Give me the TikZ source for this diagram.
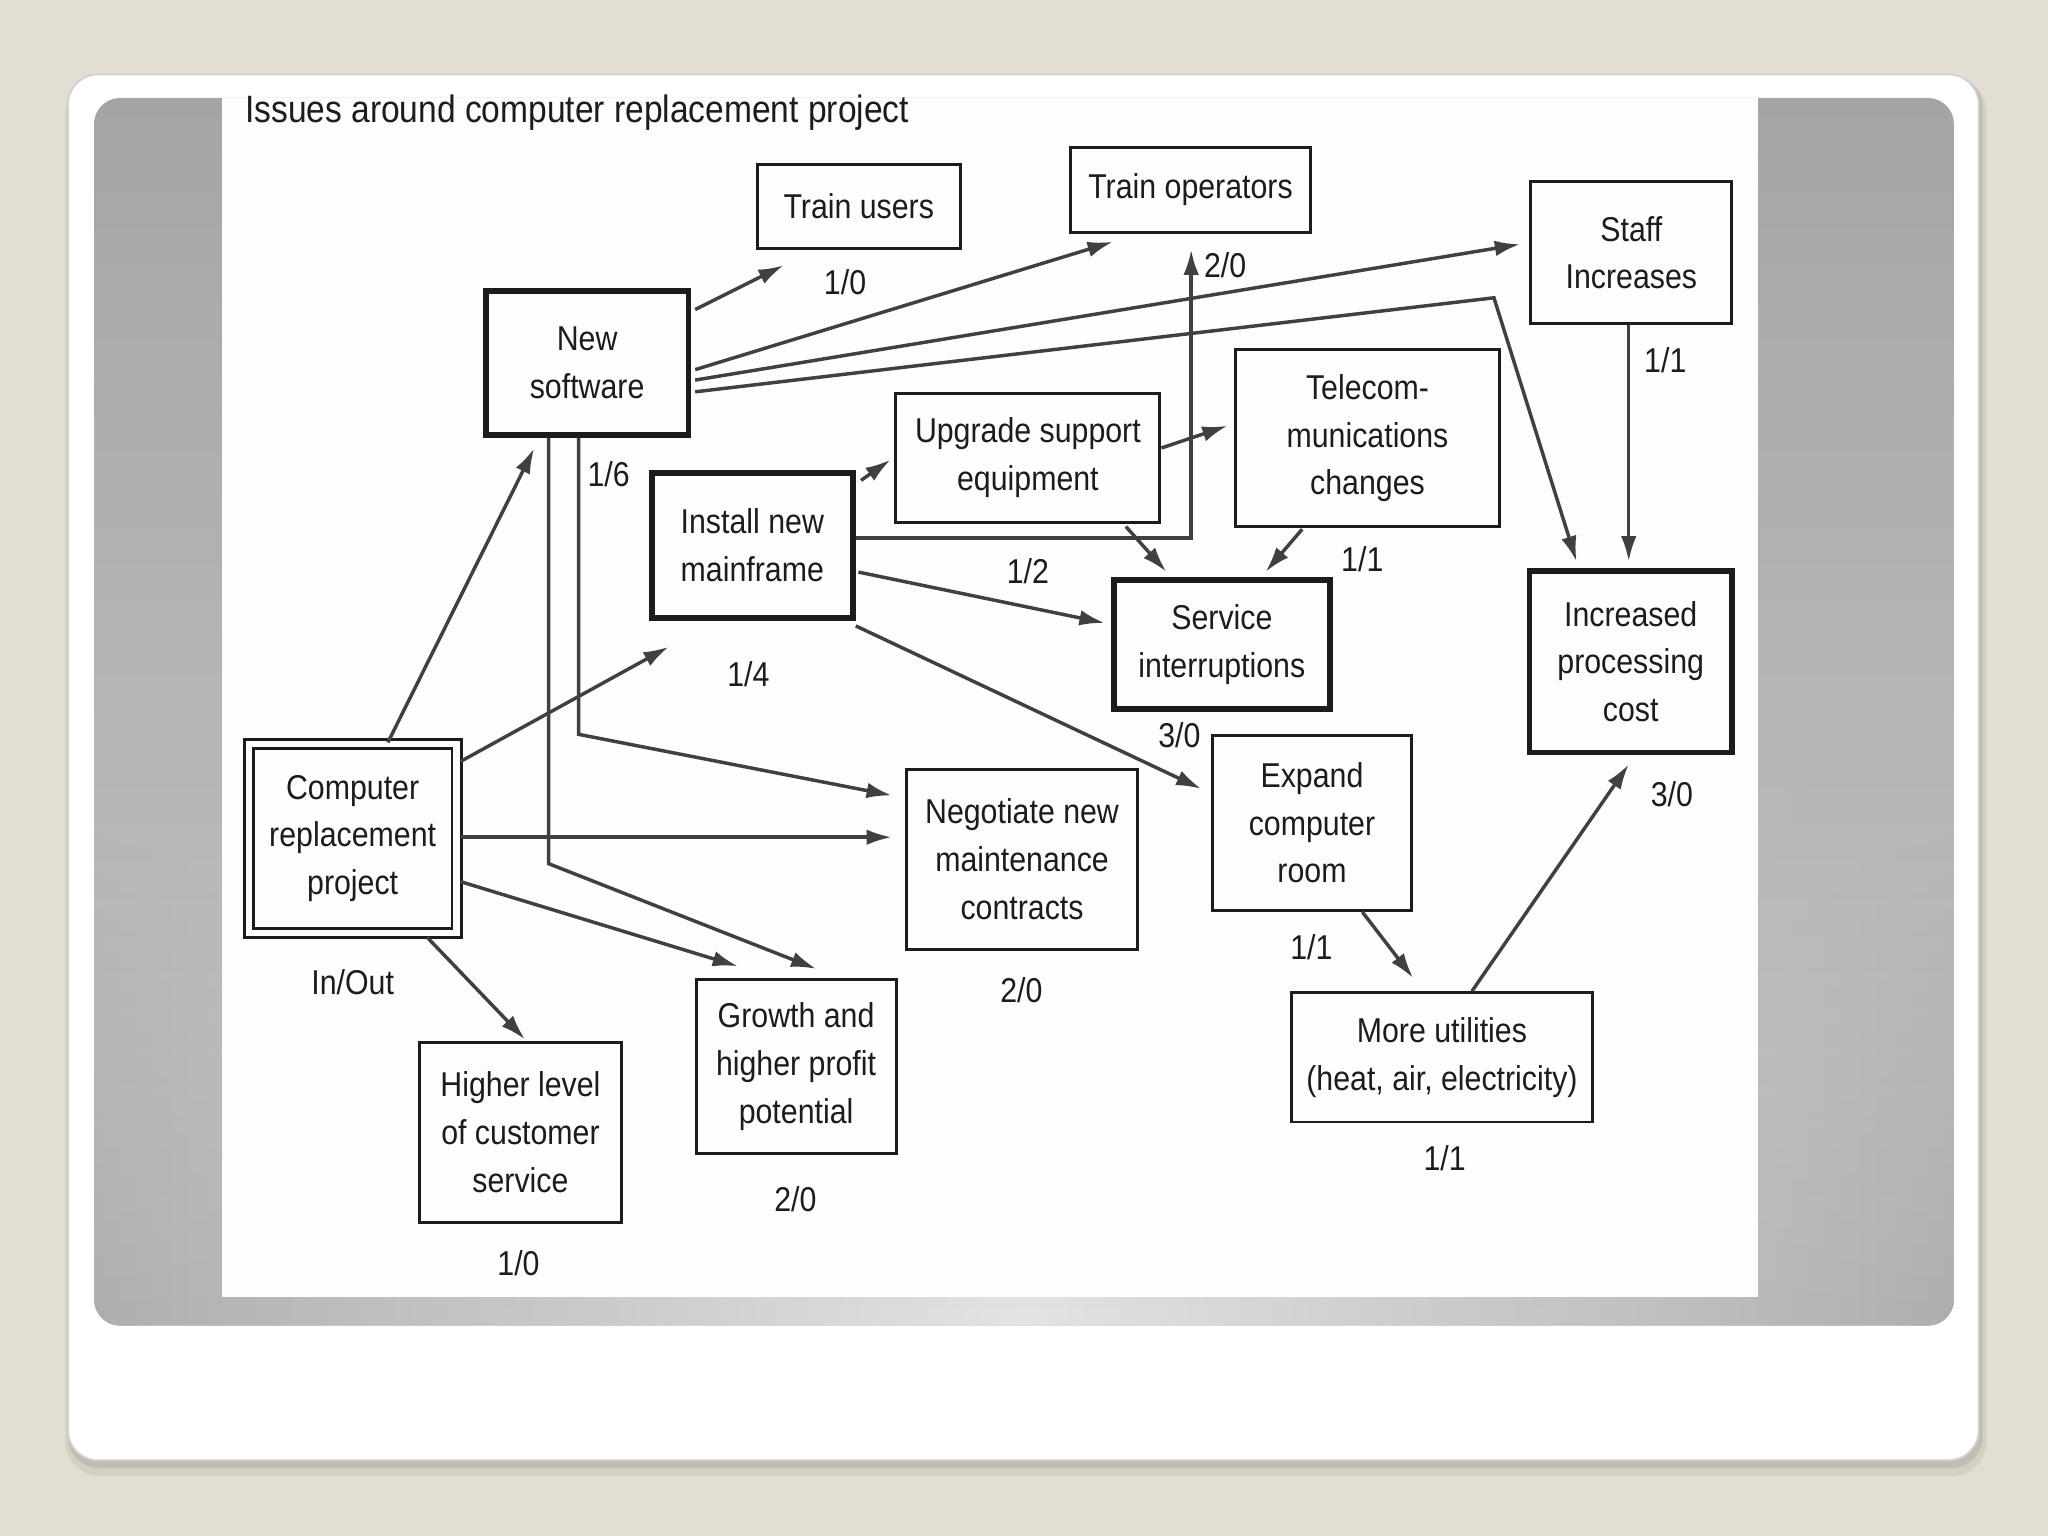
\documentclass[tikz,border=0pt]{standalone}
\usepackage{fontspec}
\setmainfont{Liberation Sans}[FakeStretch=0.88]
\usetikzlibrary{arrows.meta,calc,fadings}

\definecolor{pagebg}{HTML}{E2DED3}
\definecolor{shadowc}{HTML}{ABA798}
\definecolor{imgbg}{HTML}{FDFCFE}
\definecolor{inkc}{HTML}{1C1C1C}
\definecolor{shA}{HTML}{E4E3E6}
\definecolor{shC}{HTML}{C6C5C8}
\definecolor{shD}{HTML}{AEADB0}
\definecolor{shE}{HTML}{A5A4A7}

\begin{document}
\begin{tikzpicture}[
		x=0.01cm, y=-0.01cm,
		every node/.style={font=\fontsize{7.5}{10.4}\selectfont, text=inkc, align=center},
		box/.style={draw=inkc, line width=0.65pt, inner sep=0pt},
		heavy/.style={box, line width=1.25pt},
		dbox/.style={draw=inkc, line width=0.6pt, double, double distance=1.4pt, inner sep=0pt},
		lbl/.style={inner sep=0pt},
		link/.style={draw=black!75, line width=0.75pt, -{Latex[length=5.5pt,width=3.4pt]}}
	]
		\useasboundingbox (0,0) rectangle (1568,1176);

		% slide background
		\fill[pagebg] (0,0) rectangle (1568,1176);
		\fill[shadowc, opacity=0.25, rounded corners=0.26cm] (50,60) rectangle (1521,1130);
		\fill[shadowc, opacity=0.45, rounded corners=0.24cm] (52,58) rectangle (1518,1124);
		\filldraw[fill=white, draw=black!18, line width=0.4pt, rounded corners=0.23cm] (52,57) rectangle (1515,1118);
		\shade[top color=shE, bottom color=shC, rounded corners=0.2cm] (72,75) rectangle (1496,1015);
		\begin{scope}
			\clip[rounded corners=0.2cm] (72,75) rectangle (1496,1015);
			\shade[left color=shD, right color=shD, middle color=shA, path fading=north] (72,600) rectangle (1496,1015);
		\end{scope}
		\fill[imgbg] (170,75) rectangle (1346,993);

		\node[anchor=west, inner sep=0pt, font=\fontsize{8.3}{10}\selectfont] (title) at (187,86) {Issues around computer replacement project};

		\node[box, minimum width=1.55cm, minimum height=0.64cm] (tu) at (657.5,158) {Train users};
		\node[box, minimum width=1.83cm, minimum height=0.65cm] (to) at (911.5,145.5) {Train operators};
		\node[box, minimum width=1.54cm, minimum height=1.09cm] (si) at (1249,193.5) {Staff\\Increases};
		\node[heavy, minimum width=1.55cm, minimum height=1.10cm] (ns) at (449.5,278) {New\\software};
		\node[box, minimum width=2.02cm, minimum height=0.99cm] (us) at (787,350.5) {Upgrade support\\equipment};
		\node[box, minimum width=2.02cm, minimum height=1.35cm] (tc) at (1047,335.5) {Telecom-\\munications\\changes};
		\node[heavy, minimum width=1.54cm, minimum height=1.11cm] (im) at (576,417.5) {Install new\\mainframe};
		\node[heavy, minimum width=1.65cm, minimum height=0.99cm] (sv) at (935.5,493.5) {Service\\interruptions};
		\node[heavy, minimum width=1.55cm, minimum height=1.39cm] (ip) at (1248.5,506.5) {Increased\\processing\\cost};
		\node[dbox, minimum width=1.59cm, minimum height=1.45cm] (crp) at (270,642) {Computer\\replacement\\project};
		\node[box, minimum width=1.77cm, minimum height=1.38cm] (nm) at (782.5,658) {Negotiate new\\maintenance\\contracts};
		\node[box, minimum width=1.53cm, minimum height=1.34cm] (ec) at (1004.5,630) {Expand\\computer\\room};
		\node[box, minimum width=2.30cm, minimum height=0.99cm] (mu) at (1104,809.5) {More utilities\\(heat, air, electricity)};
		\node[box, minimum width=1.55cm, minimum height=1.38cm] (hl) at (398.5,867) {Higher level\\of customer\\service};
		\node[box, minimum width=1.53cm, minimum height=1.33cm] (gp) at (609.5,816.5) {Growth and\\higher profit\\potential};

		% in/out counts
		\node[lbl] (tu-c) at (647,216) {1/0};
		\node[lbl] (to-c) at (938,203) {2/0};
		\node[lbl] (si-c) at (1275,276) {1/1};
		\node[lbl] (ns-c) at (466,363) {1/6};
		\node[lbl] (us-c) at (787,437) {1/2};
		\node[lbl] (tc-c) at (1043,428) {1/1};
		\node[lbl] (im-c) at (573,516) {1/4};
		\node[lbl] (sv-c) at (903,563) {3/0};
		\node[lbl] (ip-c) at (1280,608) {3/0};
		\node[lbl] (crp-c) at (270,752) {In/Out};
		\node[lbl] (nm-c) at (782,758) {2/0};
		\node[lbl] (ec-c) at (1004,725) {1/1};
		\node[lbl] (mu-c) at (1106,887) {1/1};
		\node[lbl] (hl-c) at (397,967) {1/0};
		\node[lbl] (gp-c) at (609,918) {2/0};

		\draw[link] ($(ns.east)+(3,-41)$) -- ($(tu.south)+(-57.5,12)$);
		\draw[link] ($(ns.east)+(3,5)$) -- ($(to.south)+(-59.5,6)$);
		\draw[link] ($(ns.east)+(3,13)$) -- ($(si.west)+(-7,-6.5)$);
		\draw[link] ($(ns.east)+(3,22)$) -- ($(si.west)+(-27,34.5)$) -- ($(ip.north)+(-41.5,-5)$);
		\draw[link] ($(ns.south)+(-6.5,0)$) -- ($(ns.south)+(-6.5,227)$) -- ($(nm.west)+(-10,-49)$);
		\draw[link] ($(ns.south)+(-29.5,0)$) -- ($(ns.south)+(-29.5,326)$) -- ($(gp.north)+(15.5,-7)$);
		\draw[link] ($(im.east)+(0,-5.5)$) -| ($(to.south)+(0.5,12)$);
		\draw[link] ($(im.north east)+(4,8)$) -- ($(us.west)+(-3,1.5)$);
		\draw[link] ($(im.east)+(2,20.5)$) -- ($(sv.west)+(-5,-16.5)$);
		\draw[link] ($(im.south east)+(0,4)$) -- ($(ec.west)+(-7,-26)$);
		\draw[link] ($(us.east)+(0,-7.5)$) -- ($(tc.west)+(-5,-9.5)$);
		\draw[link] ($(us.south)+(75,2)$) -- ($(sv.north)+(-42.5,-4)$);
		\draw[link] ($(tc.south)+(-50,1)$) -- ($(sv.north)+(33.5,-4)$);
		\draw[link] ($(si.south)+(-2,0)$) -- ($(ip.north)+(-1.5,-5)$);
		\draw[link] ($(crp.north)+(27,0)$) -- ($(ns.south)+(-40.5,8)$);
		\draw[link] ($(crp.east)+(2,-59)$) -- ($(im.south)+(-64,20)$);
		\draw[link] ($(crp.east)+(2,-1)$) -- ($(nm.west)+(-10,-17)$);
		\draw[link] ($(crp.east)+(2,33)$) -- ($(gp.north)+(-44.5,-9)$);
		\draw[link] ($(crp.south)+(57,2)$) -- ($(hl.north)+(3.5,-1)$);
		\draw[link] ($(ec.south)+(38.5,0)$) -- ($(mu.north)+(-22,-10)$);
		\draw[link] ($(mu.north)+(23,0)$) -- ($(ip.south)+(-1.5,7)$);
	\end{tikzpicture}
\end{document}
